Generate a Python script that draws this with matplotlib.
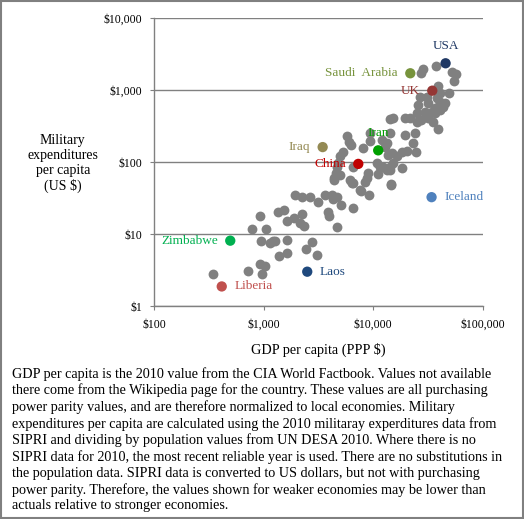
import matplotlib
matplotlib.use('Agg')
import matplotlib.pyplot as plt
from matplotlib.patches import Rectangle

plt.rcParams['font.family'] = ['Liberation Serif', 'DejaVu Serif']

# other countries (GDP per capita PPP $, military spending per capita $)
gdp = [341, 713, 922, 1033, 957, 780, 1047, 922, 942, 1140, 1206, 1265, 1385, 1629,
       1629, 1340, 1539, 1618, 1887, 2233, 2142, 2330, 2429, 2773, 3041, 4630, 1916,
       2233, 2625, 3126, 3622, 4170, 4630, 4253, 5070, 3880, 3960, 6560, 6350, 4380,
       9080, 14500, 7730, 4960, 10970, 14200, 5720, 6000, 6260, 8100, 5320, 4960,
       4790, 4630, 6490, 9000, 8700, 4560, 6120, 6560, 7570, 10740, 11500, 13700,
       14700, 16400, 18200, 20200, 12300, 14200, 15200, 18200, 14500, 11900, 13300,
       14200, 19500, 24000, 23200, 24400, 9330, 15200, 14200, 19500, 24900, 27100,
       24900, 29700, 25800, 30800, 31800, 37900, 40600, 45200, 39300, 36600, 34100,
       36600, 40600, 43600, 31800, 35300, 38700, 39300, 40600, 49400, 28600, 27100,
       37400, 52600, 56600, 55000, 8420, 13300, 4420, 9330, 12700, 21800, 26500]
milex = [2.8, 3.1, 3.8, 3.6, 2.8, 11.9, 11.9, 18.1, 8.1, 7.5, 8.1, 8.1, 5.0, 5.4,
         8.3, 20.2, 21.8, 15.3, 16.5, 19.0, 14.2, 12.8, 6.3, 7.8, 5.2, 12.4, 34.4,
         32.6, 33.3, 28.1, 34.4, 34.4, 33.3, 30.6, 25.5, 20.6, 18.1, 22.7, 52, 56.8,
         34.4, 48.4, 39.9, 66.7, 68.9, 78.2, 232, 193, 174, 156, 140, 120,
         98.7, 86.9, 85.3, 70.4, 59.9, 70.4, 56.8, 51.1, 41.2, 96.8, 86.9, 126,
         133, 120, 140, 145, 86.9, 86.9, 96.8, 82.6, 49.5, 204, 184,
         253, 239, 253, 184, 140, 253, 408, 395, 408, 366, 387,
         480, 505, 625, 815, 659, 774, 695, 659, 592, 562, 505,
         480, 532, 592, 408, 366, 290, 1148, 909, 927, 1958, 1754,
         2198, 1778, 1683, 1358, 53.8, 78, 60, 200, 160, 405, 800]

# highlighted countries
names = ['USA', 'Saudi  Arabia', 'UK', 'Iraq', 'China', 'Iran', 'Iceland',
         'Zimbabwe', 'Laos', 'Liberia']
hl_gdp = [45800, 21800, 34600, 3450, 7300, 11100, 34100, 494, 2495, 413]
hl_milex = [2371, 1722, 986, 162, 94.6, 146, 32.6, 8.1, 3.0, 1.87]
hl_colors = ['#1F3864', '#77933C', '#953735', '#948A54', '#C00000', '#00A000',
             '#4F81BD', '#00B050', '#1F497D', '#C0504D']
# where the label goes relative to the point
label_side = ['above', 'left', 'left', 'left', 'left', 'above', 'right', 'left',
              'right', 'right']

x_ticks = [100, 1000, 10000, 100000]
x_labels = ['$100', '$1,000', '$10,000', '$100,000']
y_ticks = [1, 10, 100, 1000, 10000]
y_labels = ['$1', '$10', '$100', '$1,000', '$10,000']

caption = ("GDP per capita is the 2010 value from the CIA World Factbook. Values not available\n"
           "there come from the Wikipedia page for the country. These values are all purchasing\n"
           "power parity values, and are therefore normalized to local economies. Military\n"
           "expenditures per capita are calculated using the 2010 militaray experditures data from\n"
           "SIPRI and dividing by population values from UN DESA 2010. Where there is no\n"
           "SIPRI data for 2010, the most recent reliable year is used. There are no substitutions in\n"
           "the population data. SIPRI data is converted to US dollars, but not with purchasing\n"
           "power parity. Therefore, the values shown for weaker economies may be lower than\n"
           "actuals relative to stronger economies.")

fig = plt.figure(figsize=(5.24, 5.19), dpi=100)
ax = fig.add_axes([0.2945, 0.4104, 0.6267, 0.5543])

ax.scatter(gdp, milex, s=50, color='#808080', zorder=3, linewidths=0)
ax.scatter(hl_gdp, hl_milex, s=55, c=hl_colors, zorder=4, linewidths=0)

offsets = {'above': ((0, 8), 'center', 'bottom'),
           'left': ((-9, 0), 'right', 'center'),
           'right': ((9, 0), 'left', 'center')}
for n, x, y, c, side in zip(names, hl_gdp, hl_milex, hl_colors, label_side):
    off, ha, va = offsets[side]
    ax.annotate(n, (x, y), xytext=off, textcoords='offset points', ha=ha, va=va,
                color=c, fontsize=9.5)

ax.set_xscale('log')
ax.set_yscale('log')
ax.set_xlim(100, 100000)
ax.set_ylim(1, 10000)
ax.set_xticks(x_ticks)
ax.set_xticklabels(x_labels)
ax.set_yticks(y_ticks)
ax.set_yticklabels(y_labels)
ax.minorticks_off()
ax.tick_params(labelsize=8.5, color='#808080', length=3, pad=6)
ax.grid(axis='y', color='#808080', linewidth=1)
ax.set_axisbelow(True)
for s in ['top', 'right']:
    ax.spines[s].set_visible(False)
for s in ['left', 'bottom']:
    ax.spines[s].set_color('#808080')
    ax.spines[s].set_linewidth(1)

ax.set_xlabel('GDP per capita (PPP $)', fontsize=10.3, labelpad=9)
fig.text(0.12, 0.685, 'Military\nexpenditures\nper capita\n(US $)', ha='center',
         va='center', fontsize=10, linespacing=1.2)

fig.text(0.023, 0.293, caption, ha='left', va='top', fontsize=10.2, linespacing=1.27)

fig.patches.append(Rectangle((0.001, 0.001), 0.997, 0.997, transform=fig.transFigure,
                             fill=False, edgecolor='#808080', linewidth=1.5))

fig.savefig('out.png', dpi=100)
